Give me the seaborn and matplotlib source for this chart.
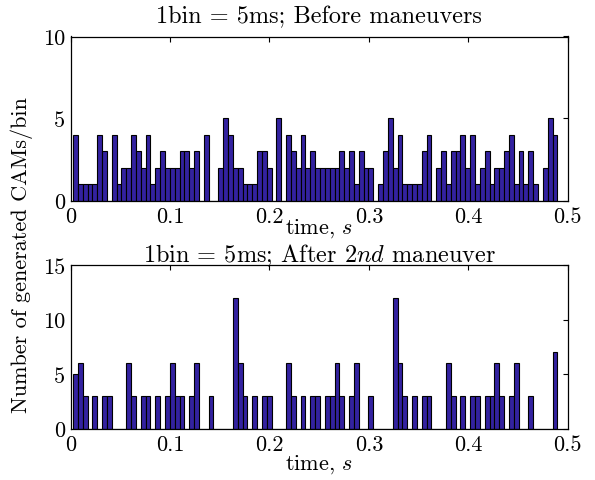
import numpy as np
import pandas as pd
import matplotlib
matplotlib.use("Agg")
import matplotlib.pyplot as plt
import seaborn as sns

# CAM counts per 5 ms bin, 100 bins each
before_counts = [4, 1, 1, 1, 1, 4, 3, 0, 4, 1, 2, 2, 4, 3, 2, 4, 1, 2, 3, 2,
                 2, 2, 3, 3, 2, 3, 0, 4, 0, 0, 2, 5, 4, 2, 2, 1, 1, 1, 3, 3,
                 2, 0, 5, 0, 4, 3, 2, 4, 2, 3, 2, 2, 2, 2, 2, 3, 2, 3, 1, 3,
                 2, 2, 0, 1, 3, 5, 2, 4, 1, 1, 1, 1, 3, 4, 0, 2, 3, 1, 3, 3,
                 4, 2, 4, 1, 2, 3, 1, 2, 2, 3, 4, 1, 3, 1, 3, 1, 0, 2, 5, 4]
after_counts = [5, 6, 3, 0, 3, 0, 3, 3, 0, 0, 0, 6, 3, 0, 3, 3, 0, 3, 0, 3,
                6, 3, 3, 0, 3, 6, 0, 0, 3, 0, 0, 0, 0, 12, 6, 3, 0, 3, 0, 3,
                3, 0, 0, 0, 6, 3, 0, 3, 0, 3, 3, 0, 3, 3, 6, 3, 0, 3, 6, 0,
                0, 3, 0, 0, 0, 0, 12, 6, 3, 0, 3, 0, 3, 3, 0, 0, 0, 6, 3, 0,
                3, 0, 3, 3, 0, 3, 3, 6, 3, 0, 3, 6, 0, 0, 3, 0, 0, 0, 0, 7]

# histogram binning (seconds)
bin_start = 0.0025
bin_width = 0.00487

titles = ["1bin = 5ms; Before maneuvers", r"1bin = 5ms; After $2nd$ maneuver"]
x_ticks = [0, 0.1, 0.2, 0.3, 0.4, 0.5]
x_tick_labels = ["0", "0.1", "0.2", "0.3", "0.4", "0.5"]
y_ticks_top = [0, 5, 10]
y_ticks_bottom = [0, 5, 10, 15]
x_label = r"time, $s$"
y_label = "Number of generated CAMs/bin"

sns.set_theme(style="white")
plt.rcParams.update({
    "font.family": ["cmr10", "DejaVu Serif"],
    "mathtext.fontset": "cm",
    "axes.formatter.use_mathtext": True,
    "axes.edgecolor": "black",
    "axes.linewidth": 0.9,
    "xtick.direction": "in",
    "ytick.direction": "in",
    "xtick.top": True,
    "ytick.right": True,
    "xtick.major.size": 3.8,
    "ytick.major.size": 3.8,
    "xtick.major.width": 0.8,
    "ytick.major.width": 0.8,
    "xtick.color": "black",
    "ytick.color": "black",
    "text.color": "black",
    "axes.labelcolor": "black",
})

W, H = 595, 481
fig = plt.figure(figsize=(W / 100, H / 100), dpi=100)

def px_axes(left, top, right, bottom):
    return fig.add_axes([left / W, 1 - bottom / H, (right - left) / W, (bottom - top) / H])

ax_top = px_axes(70.5, 37.5, 567.8, 201.5)
ax_bot = px_axes(70.5, 266, 567.8, 429.5)

tick_fs = 16
title_fs = 17.5
label_fs = 16
bar_color = "#3322a0"

panels = [
    (ax_top, before_counts, y_ticks_top, titles[0], 10),
    (ax_bot, after_counts, y_ticks_bottom, titles[1], 2.5),
]
for ax, counts, yt, title, tpad in panels:
    n = len(counts)
    edges = [bin_start + bin_width * i for i in range(n + 1)]
    centers = [(edges[i] + edges[i + 1]) / 2 for i in range(n)]
    df = pd.DataFrame({"t": centers, "count": counts})
    sns.histplot(data=df, x="t", weights="count", bins=edges, ax=ax,
                 color=bar_color, edgecolor="black", linewidth=0.8, alpha=1.0)
    ax.set_xlim(0, 0.5)
    ax.set_ylim(yt[0], yt[-1])
    ax.set_xticks(x_ticks)
    ax.set_xticklabels(x_tick_labels)
    ax.set_yticks(yt)
    ax.set_yticklabels([str(v) for v in yt])
    ax.tick_params(labelsize=tick_fs, pad=4)
    ax.set_ylabel("")
    ax.set_title(title, fontsize=title_fs, pad=tpad)
    for s in ax.spines.values():
        s.set_visible(True)
        s.set_color("black")

ax_top.set_xlabel(x_label, fontsize=label_fs, labelpad=-7)
ax_bot.set_xlabel(x_label, fontsize=label_fs, labelpad=-1)

fig.text(22 / W, 1 - 255 / H, y_label, rotation=90, ha="center", va="center",
         fontsize=label_fs)

fig.savefig("out.png", dpi=100, facecolor="white")
